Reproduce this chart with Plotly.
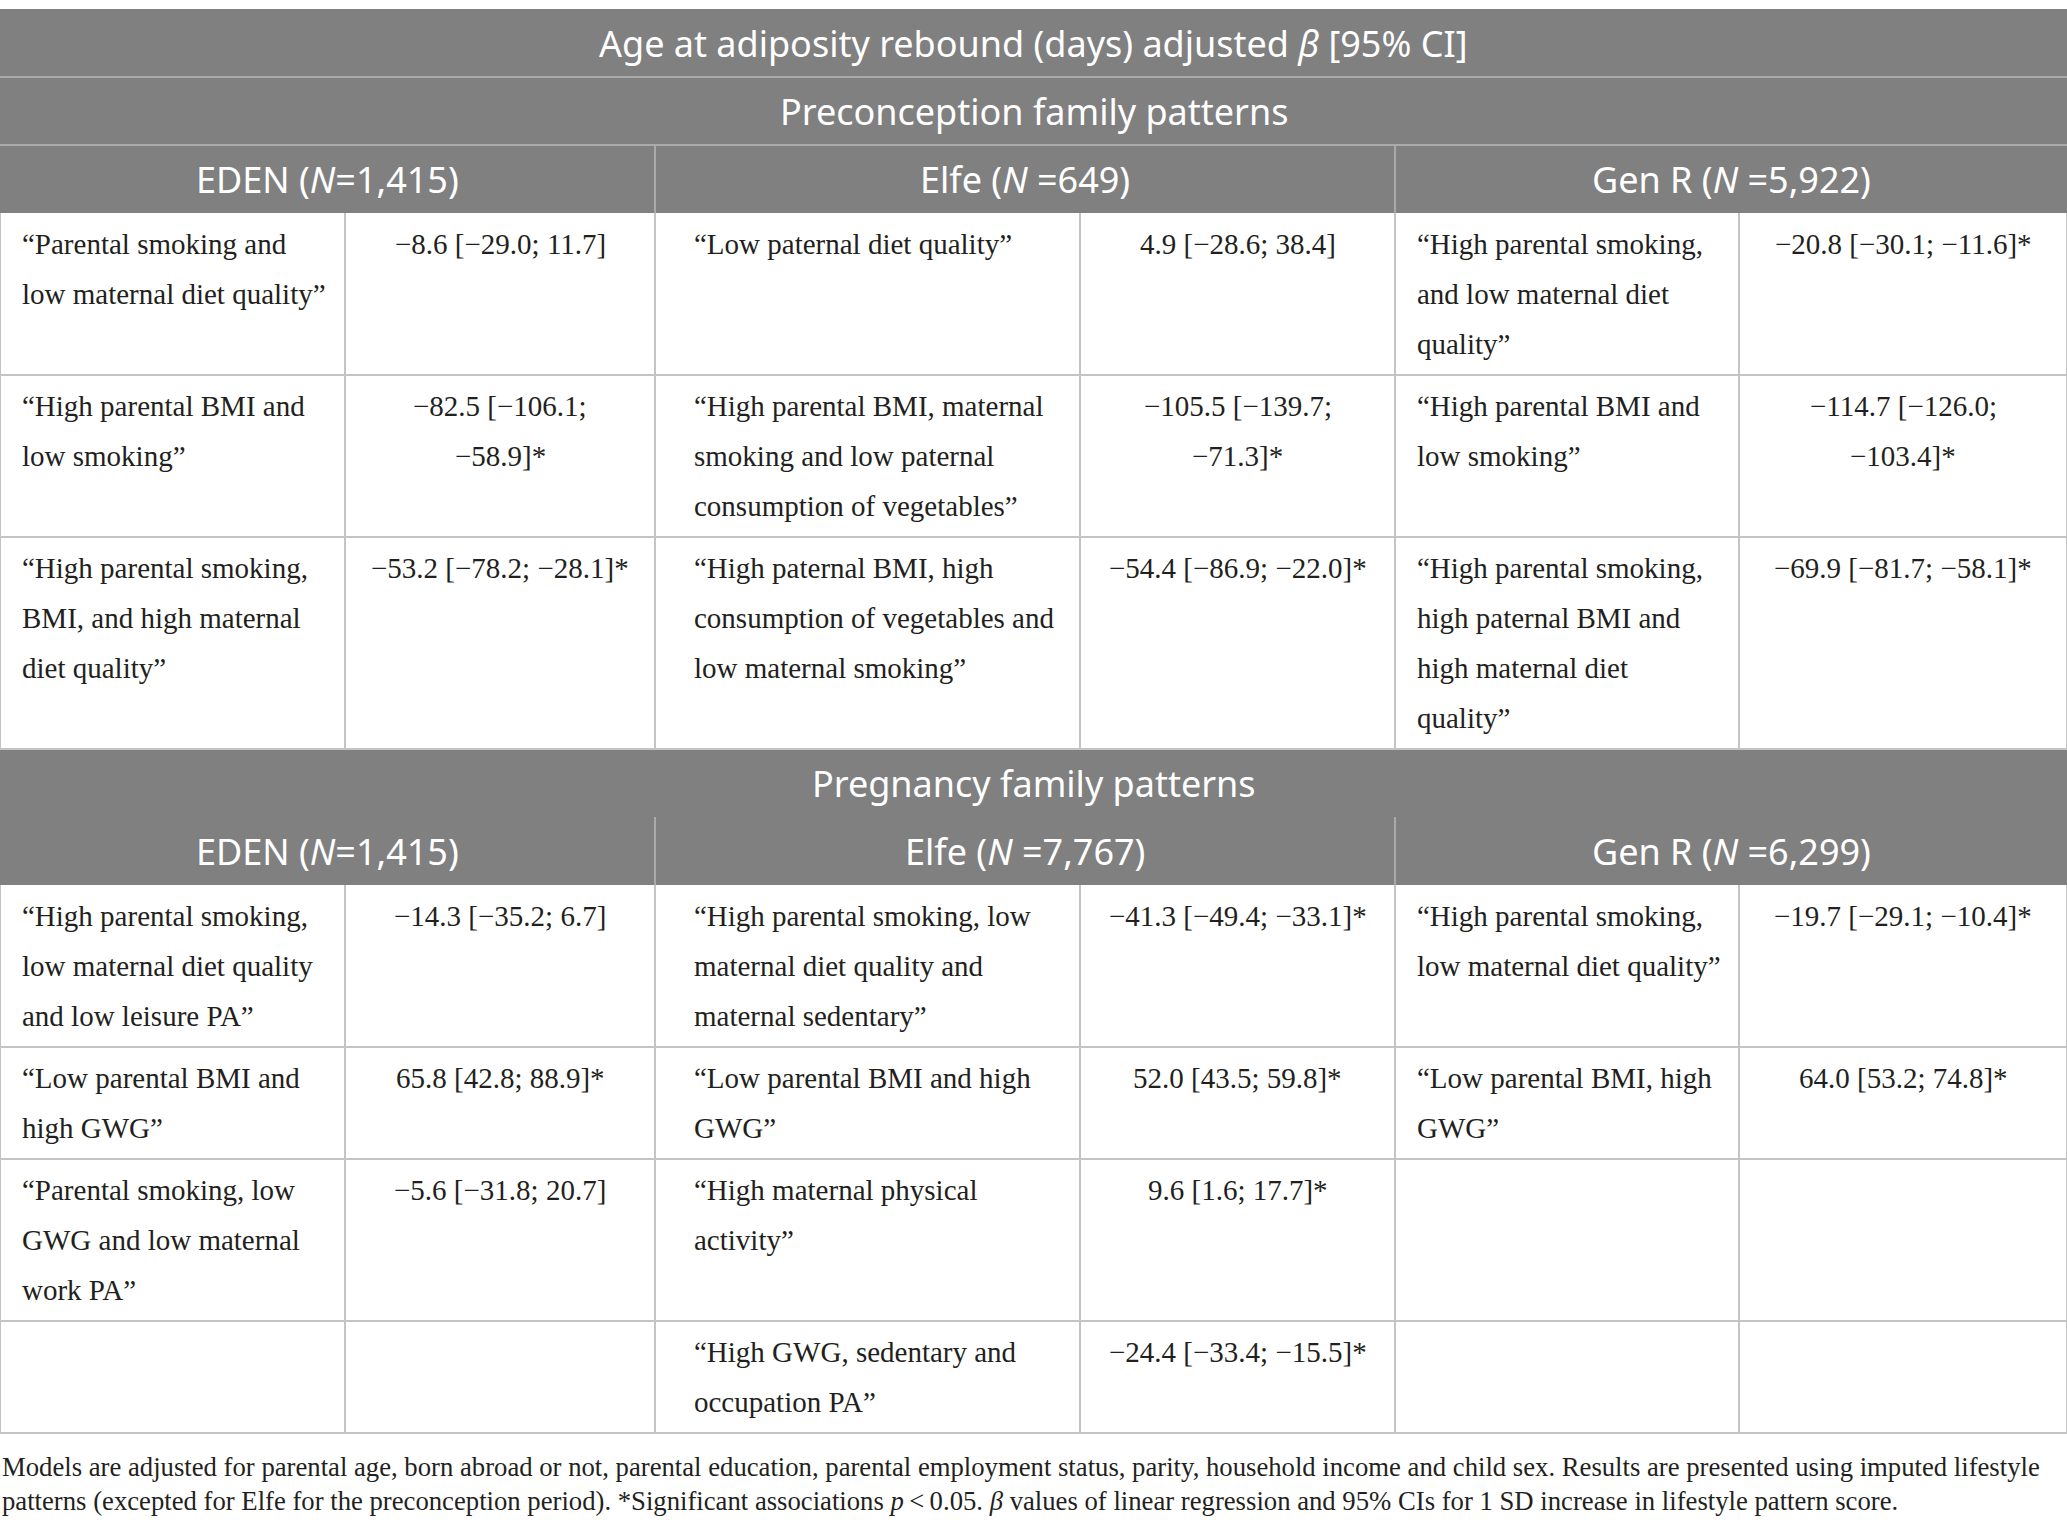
import plotly.graph_objects as go

# ---- table content ----
TITLE = "Age at adiposity rebound (days) adjusted <i>β</i> [95% CI]"
SECTION_TITLES = ["Preconception family patterns", "Pregnancy family patterns"]

PRECONCEPTION_COHORTS = ["EDEN (<i>N</i>=1,415)", "Elfe (<i>N</i> =649)", "Gen R (<i>N</i> =5,922)"]
PREGNANCY_COHORTS = ["EDEN (<i>N</i>=1,415)", "Elfe (<i>N</i> =7,767)", "Gen R (<i>N</i> =6,299)"]

# each row: one entry per cohort (EDEN, Elfe, Gen R), pattern label split in lines as printed
PRECONCEPTION_PATTERNS = [
    [["“Parental smoking and", "low maternal diet quality”"],
     ["“Low paternal diet quality”"],
     ["“High parental smoking,", "and low maternal diet", "quality”"]],
    [["“High parental BMI and", "low smoking”"],
     ["“High parental BMI, maternal", "smoking and low paternal", "consumption of vegetables”"],
     ["“High parental BMI and", "low smoking”"]],
    [["“High parental smoking,", "BMI, and high maternal", "diet quality”"],
     ["“High paternal BMI, high", "consumption of vegetables and", "low maternal smoking”"],
     ["“High parental smoking,", "high paternal BMI and", "high maternal diet", "quality”"]],
]
PRECONCEPTION_BETAS = [
    [["−8.6 [−29.0; 11.7]"], ["4.9 [−28.6; 38.4]"], ["−20.8 [−30.1; −11.6]*"]],
    [["−82.5 [−106.1;", "−58.9]*"], ["−105.5 [−139.7;", "−71.3]*"], ["−114.7 [−126.0;", "−103.4]*"]],
    [["−53.2 [−78.2; −28.1]*"], ["−54.4 [−86.9; −22.0]*"], ["−69.9 [−81.7; −58.1]*"]],
]

PREGNANCY_PATTERNS = [
    [["“High parental smoking,", "low maternal diet quality", "and low leisure PA”"],
     ["“High parental smoking, low", "maternal diet quality and", "maternal sedentary”"],
     ["“High parental smoking,", "low maternal diet quality”"]],
    [["“Low parental BMI and", "high GWG”"],
     ["“Low parental BMI and high", "GWG”"],
     ["“Low parental BMI, high", "GWG”"]],
    [["“Parental smoking, low", "GWG and low maternal", "work PA”"],
     ["“High maternal physical", "activity”"],
     []],
    [[],
     ["“High GWG, sedentary and", "occupation PA”"],
     []],
]
PREGNANCY_BETAS = [
    [["−14.3 [−35.2; 6.7]"], ["−41.3 [−49.4; −33.1]*"], ["−19.7 [−29.1; −10.4]*"]],
    [["65.8 [42.8; 88.9]*"], ["52.0 [43.5; 59.8]*"], ["64.0 [53.2; 74.8]*"]],
    [["−5.6 [−31.8; 20.7]"], ["9.6 [1.6; 17.7]*"], []],
    [[], ["−24.4 [−33.4; −15.5]*"], []],
]

FOOTNOTE = [
    "Models are adjusted for parental age, born abroad or not, parental education, parental employment status, "
    "parity, household income and child sex. Results are presented using imputed lifestyle",
    "patterns (excepted for Elfe for the preconception period). *Significant associations <i>p</i>\u2009<\u20090.05. "
    "<i>β</i> values of linear regression and 95% CIs for 1 SD increase in lifestyle pattern score.",
]

# ---- geometry / style ----
W, H = 2067, 1526
COL_EDGES = [0, 345, 655, 1080, 1395, 1739, 2067]
LABEL_INDENT = [20, 37, 20]
TOP = 9
HEAD_H = 68
LINE_H = 50
PAD = 6

HEAD_BG = "#7f807f"
HEAD_LINE = "#a9aaa9"
GRID = "#c4c4c4"
TEXT = "#231f20"
SANS = "Noto Sans"
SERIF = "Liberation Serif"
HEAD_SIZE = 36
BODY_SIZE = 29
NOTE_SIZE = 26.7

shapes = []
annotations = []


def hline(y, x0, x1, color, width=2):
    shapes.append(dict(type="line", x0=x0, x1=x1, y0=y, y1=y, line=dict(color=color, width=width), layer="above"))


def vline(x, y0, y1, color, width=2):
    shapes.append(dict(type="line", x0=x, x1=x, y0=y0, y1=y1, line=dict(color=color, width=width), layer="above"))


def text(x, y, s, size, color, family, anchor="center"):
    annotations.append(dict(x=x, y=y, xref="x", yref="y", text=s, showarrow=False,
                            xanchor=anchor, yanchor="middle",
                            font=dict(size=size, color=color, family=family)))


def header_band(y0, rows):
    shapes.append(dict(type="rect", x0=0, x1=W, y0=y0, y1=y0 + HEAD_H * rows,
                       fillcolor=HEAD_BG, line=dict(width=0), layer="below"))


y = TOP
# main title row
header_band(y, 1)
text(W / 2, y + HEAD_H / 2, TITLE, HEAD_SIZE, "white", SANS)
y += HEAD_H
hline(y, 0, W, HEAD_LINE)

sections = [
    (SECTION_TITLES[0], PRECONCEPTION_COHORTS, PRECONCEPTION_PATTERNS, PRECONCEPTION_BETAS, True),
    (SECTION_TITLES[1], PREGNANCY_COHORTS, PREGNANCY_PATTERNS, PREGNANCY_BETAS, False),
]

for title, cohorts, patterns, betas, split_line in sections:
    header_band(y, 2)
    text(W / 2, y + HEAD_H / 2, title, HEAD_SIZE, "white", SANS)
    y += HEAD_H
    if split_line:
        hline(y, 0, W, HEAD_LINE)
    for i, c in enumerate(cohorts):
        x0, x1 = COL_EDGES[2 * i], COL_EDGES[2 * i + 2]
        text((x0 + x1) / 2, y + HEAD_H / 2, c, HEAD_SIZE, "white", SANS)
    vline(COL_EDGES[2], y, y + HEAD_H, HEAD_LINE)
    vline(COL_EDGES[4], y, y + HEAD_H, HEAD_LINE)
    y += HEAD_H

    for row_labels, row_betas in zip(patterns, betas):
        n = max(max(len(l) for l in row_labels), max(len(b) for b in row_betas), 1)
        row_h = 2 * PAD + LINE_H * n
        for i in range(3):
            lx = COL_EDGES[2 * i] + LABEL_INDENT[i]
            for k, line in enumerate(row_labels[i]):
                text(lx, y + PAD + LINE_H * (k + 0.5), line, BODY_SIZE, TEXT, SERIF, anchor="left")
            bx = (COL_EDGES[2 * i + 1] + COL_EDGES[2 * i + 2]) / 2
            for k, line in enumerate(row_betas[i]):
                text(bx, y + PAD + LINE_H * (k + 0.5), line, BODY_SIZE, TEXT, SERIF)
        for xe in COL_EDGES:
            vline(xe, y, y + row_h, GRID)
        y += row_h
        hline(y, 0, W, GRID)

table_bottom = y
for k, line in enumerate(FOOTNOTE):
    text(0, table_bottom + 34 + 34 * k, line, NOTE_SIZE, TEXT, SERIF, anchor="left")

fig = go.Figure()
fig.update_layout(
    width=W, height=H,
    margin=dict(l=0, r=0, t=0, b=0),
    paper_bgcolor="white", plot_bgcolor="white",
    xaxis=dict(range=[0, W], visible=False, fixedrange=True),
    yaxis=dict(range=[H, 0], visible=False, fixedrange=True),
    shapes=shapes,
    annotations=annotations,
    showlegend=False,
)

fig.write_html("out.html", config={"displayModeBar": False},
               post_script="document.body.style.margin='0';")
